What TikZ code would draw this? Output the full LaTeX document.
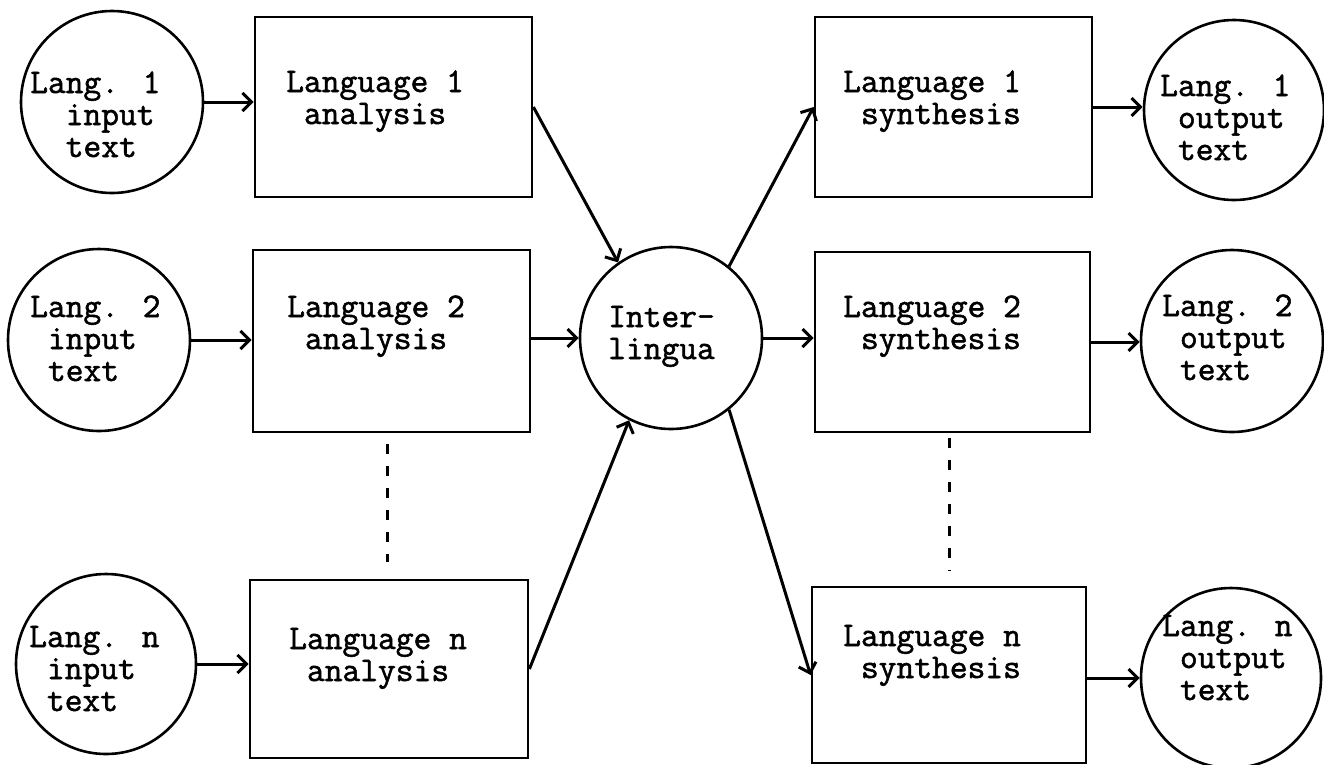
\documentclass[tikz,border=0pt]{standalone}
\usepackage{fontspec}
\newfontfamily\courfont[FakeBold=1.6]{Latin Modern Mono}
\usetikzlibrary{arrows.meta}
\newcommand\mytab[1]{\begin{tabular}[t]{@{}l@{}}#1\end{tabular}}
\newcommand\myind{\phantom{x}}
\tikzset{
  circ/.style={circle, draw, line width=2.6pt, inner sep=0pt, minimum size=182pt},
  stepbox/.style={rectangle, draw, line width=2.8pt, inner sep=0pt, minimum width=277pt, minimum height=180pt},
  txt/.style={inner sep=0pt, anchor=base west, font=\courfont\fontsize{34.5}{32}\selectfont},
  arr/.style={line width=3pt, -{Straight Barb[length=9pt,width=18pt]}},
  dashline/.style={line width=3pt, dash pattern=on 10pt off 12pt}
}
\begin{document}
\begin{tikzpicture}[x=1pt,y=-1pt]
\useasboundingbox (0,0) rectangle (1324,764);
% input circles
\node[circ] (in1) at (112,102) {};
\node[circ] (in2) at (99,340) {};
\node[circ,minimum size=180pt] (in3) at (106,664) {};
% analysis boxes
\node[stepbox] (an1) at (393.5,107) {};
\node[stepbox,minimum height=182pt] (an2) at (391.5,341) {};
\node[stepbox,minimum width=278pt,minimum height=178pt] (an3) at (389,669) {};
% interlingua
\node[circ] (inter) at (671,338) {};
% synthesis boxes
\node[stepbox] (sy1) at (953.5,107) {};
\node[stepbox,minimum width=275pt] (sy2) at (952.5,342) {};
\node[stepbox,minimum width=274pt,minimum height=176pt] (sy3) at (949,675) {};
% output circles
\node[circ,minimum size=180pt] (out1) at (1234,110) {};
\node[circ] (out2) at (1232,341) {};
\node[circ,minimum size=180pt] (out3) at (1231,678) {};
% texts
\node[txt] (in1t) at (30,93) {\mytab{Lang. 1\\\myind\myind input\\\myind\myind text}};
\node[txt] (in2t) at (30,317) {\mytab{Lang. 2\\\myind input\\\myind text}};
\node[txt] (in3t) at (29,647) {\mytab{Lang. n\\\myind input\\\myind text}};
\node[txt] (an1t) at (286,92) {\mytab{Language 1\\\myind analysis}};
\node[txt] (an2t) at (287,317) {\mytab{Language 2\\\myind analysis}};
\node[txt] (an3t) at (289,649) {\mytab{Language n\\\myind analysis}};
\node[txt] (intert) at (608,327) {\mytab{Inter-\\lingua}};
\node[txt] (sy1t) at (843,92) {\mytab{Language 1\\\myind synthesis}};
\node[txt] (sy2t) at (843,317) {\mytab{Language 2\\\myind synthesis}};
\node[txt] (sy3t) at (843,646) {\mytab{Language n\\\myind synthesis}};
\node[txt] (out1t) at (1160,96) {\mytab{Lang. 1\\\myind output\\\myind text}};
\node[txt] (out2t) at (1162,316) {\mytab{Lang. 2\\\myind output\\\myind text}};
\node[txt] (out3t) at (1162,636) {\mytab{Lang. n\\\myind output\\\myind text}};
% arrows
\draw[arr] (in1.east) -- (in1.east -| an1.west);
\draw[arr] (in2.east) -- (in2.east -| an2.west);
\draw[arr] (in3.east) -- (in3.east -| an3.west);
\draw[arr] (an1.east) -- (inter.125);
\draw[arr] (an2.east |- inter.west) -- (inter.west);
\draw[arr] (an3.east) -- (inter.243);
\draw[arr] (inter.51) -- (sy1.west);
\draw[arr] (inter.east) -- (inter.east -| sy2.west);
\draw[arr] (inter.-51) -- (sy3.west);
\draw[arr] (sy1.east) -- (sy1.east -| out1.west);
\draw[arr] (sy2.east) -- (sy2.east -| out2.west);
\draw[arr] (out3.west -| sy3.east) -- (out3.west);
% dashed continuation lines
\draw[dashline, shorten <=11pt, shorten >=17pt] ([xshift=-4.5pt]an2.south) -- ([xshift=-2pt]an3.north);
\draw[dashline, shorten <=5pt, shorten >=15pt] ([xshift=-3.5pt]sy2.south) -- (sy3.north);
\end{tikzpicture}
\end{document}
